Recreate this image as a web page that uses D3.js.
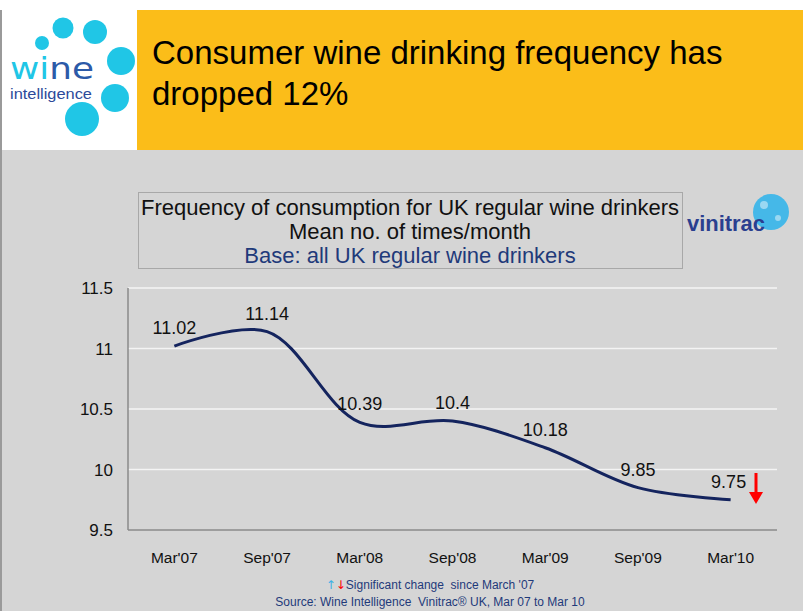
<!DOCTYPE html>
<html><head><meta charset="utf-8">
<script src="https://cdn.jsdelivr.net/npm/d3@7"></script>
<style>body{margin:0;background:#fff}svg{display:block;font-family:"Liberation Sans",Arial,sans-serif}text{white-space:pre}</style>
</head><body><svg id="c" width="803" height="611"></svg>
<script>
const categories = ["Mar'07","Sep'07","Mar'08","Sep'08","Mar'09","Sep'09","Mar'10"];
const values = [11.02, 11.14, 10.39, 10.4, 10.18, 9.85, 9.75];
const valueLabels = ["11.02","11.14","10.39","10.4","10.18","9.85","9.75"];
const yTicks = [9.5, 10, 10.5, 11, 11.5];
const yTickLabels = ["9.5","10","10.5","11","11.5"];

const svg = d3.select("#c");
// background
svg.append("rect").attr("x",0).attr("y",0).attr("width",803).attr("height",611).attr("fill","#d5d5d5");
svg.append("rect").attr("x",0).attr("y",0).attr("width",803).attr("height",10).attr("fill","#fff");
svg.append("rect").attr("x",0).attr("y",10).attr("width",137).attr("height",140).attr("fill","#fff");
svg.append("rect").attr("x",137).attr("y",10).attr("width",666).attr("height",140).attr("fill","#fbbd19");
svg.append("line").attr("x1",1).attr("x2",1).attr("y1",10).attr("y2",611).attr("stroke","#9a9a9a").attr("stroke-width",2);

// logo
const logoCircles = [[63,28,10.5],[95,32,12],[42,43,7],[121,61,14],[115,98,14],[82,119,17]];
svg.selectAll("circle.logo").data(logoCircles).join("circle").attr("class","logo")
  .attr("cx",d=>d[0]).attr("cy",d=>d[1]).attr("r",d=>d[2]).attr("fill","#20c6e6");
const wt = svg.append("text").attr("x",10).attr("y",79).attr("font-size",30).attr("font-family","'DejaVu Sans',sans-serif")
  .attr("textLength",84).attr("lengthAdjust","spacingAndGlyphs");
wt.append("tspan").attr("fill","#20c6e6").text("wi");
wt.append("tspan").attr("fill","#2c5aa8").text("ne");
svg.append("text").attr("x",10).attr("y",99).attr("font-size",15).attr("fill","#2c4a9a")
  .attr("textLength",82).attr("lengthAdjust","spacingAndGlyphs").text("intelligence");

// title
const title = svg.append("text").attr("font-size",33).attr("fill","#000");
title.append("tspan").attr("x",152).attr("y",64).text("Consumer wine drinking frequency has");
title.append("tspan").attr("x",152).attr("y",105).text("dropped 12%");

// subtitle box
svg.append("rect").attr("x",138.5).attr("y",192.5).attr("width",544).attr("height",76).attr("fill","none").attr("stroke","#a8a8a8");
svg.append("text").attr("x",410).attr("y",215).attr("text-anchor","middle").attr("font-size",22).attr("fill","#111").text("Frequency of consumption for UK regular wine drinkers");
svg.append("text").attr("x",410).attr("y",239).attr("text-anchor","middle").attr("font-size",22).attr("fill","#111").text("Mean no. of times/month");
svg.append("text").attr("x",410).attr("y",263).attr("text-anchor","middle").attr("font-size",22).attr("fill","#1f3a7a").text("Base: all UK regular wine drinkers");

// vinitrac logo
svg.append("circle").attr("cx",771).attr("cy",212).attr("r",18).attr("fill","#45b8e8");
svg.append("circle").attr("cx",764).attr("cy",205).attr("r",4).attr("fill","#9ad8f2");
svg.append("circle").attr("cx",778).attr("cy",218).attr("r",3).attr("fill","#9ad8f2");
svg.append("text").attr("x",687).attr("y",231).attr("font-size",22).attr("fill","#2a3f8f").attr("font-weight","bold")
  .attr("textLength",78).attr("lengthAdjust","spacingAndGlyphs").text("vinitrac");

// chart
const x = d3.scaleBand().domain(categories).range([128,777]);
const y = d3.scaleLinear().domain([9.5,11.5]).range([530,288]);
const cx = d => x(d) + x.bandwidth()/2;

svg.append("g").selectAll("line").data(yTicks.slice(1)).join("line")
  .attr("x1",128).attr("x2",777).attr("y1",d=>y(d)).attr("y2",d=>y(d))
  .attr("stroke","#f4f4f4").attr("stroke-width",1.5);
svg.append("line").attr("x1",128).attr("x2",128).attr("y1",288).attr("y2",530).attr("stroke","#8a8a8a").attr("stroke-width",1.5);
svg.append("line").attr("x1",128).attr("x2",777).attr("y1",530).attr("y2",530).attr("stroke","#8a8a8a").attr("stroke-width",1.5);

svg.append("g").selectAll("text").data(yTicks).join("text")
  .attr("x",113).attr("y",d=>y(d)+6).attr("text-anchor","end").attr("font-size",17).attr("fill","#111")
  .text((d,i)=>yTickLabels[i]);
svg.append("g").selectAll("text").data(categories).join("text")
  .attr("x",d=>cx(d)).attr("y",563).attr("text-anchor","middle").attr("font-size",15.5).attr("fill","#111")
  .text(d=>d);

const pts = categories.map((c,i)=>[cx(c), y(values[i])]);
svg.append("path").attr("d", d3.line().curve(d3.curveCatmullRom.alpha(0.5))(pts))
  .attr("fill","none").attr("stroke","#14245e").attr("stroke-width",3);

svg.append("g").selectAll("text").data(categories).join("text")
  .attr("x",(d,i)=>cx(d)+ (i===6? -2 : 0)).attr("y",(d,i)=>y(values[i])-12)
  .attr("text-anchor","middle").attr("font-size",18).attr("fill","#111")
  .text((d,i)=>valueLabels[i]);

// red arrow
svg.append("line").attr("x1",756).attr("x2",756).attr("y1",473).attr("y2",493).attr("stroke","#ff0000").attr("stroke-width",3);
svg.append("path").attr("d","M749,492 L763,492 L756,504 Z").attr("fill","#ff0000");

// footnotes
const f1 = svg.append("text").attr("x",430).attr("y",589).attr("text-anchor","middle").attr("font-size",12).attr("font-family","'DejaVu Sans',sans-serif");
f1.append("tspan").attr("fill","#3ab0e6").text("↑");
f1.append("tspan").attr("fill","#ff0000").text("↓");
f1.append("tspan").attr("fill","#1f3a7a").attr("font-family","'Liberation Sans',Arial,sans-serif").text("Significant change  since March '07");
svg.append("text").attr("x",430).attr("y",606).attr("text-anchor","middle").attr("font-size",12).attr("fill","#1f3a7a").text("Source: Wine Intelligence  Vinitrac® UK, Mar 07 to Mar 10");
</script></body></html>
